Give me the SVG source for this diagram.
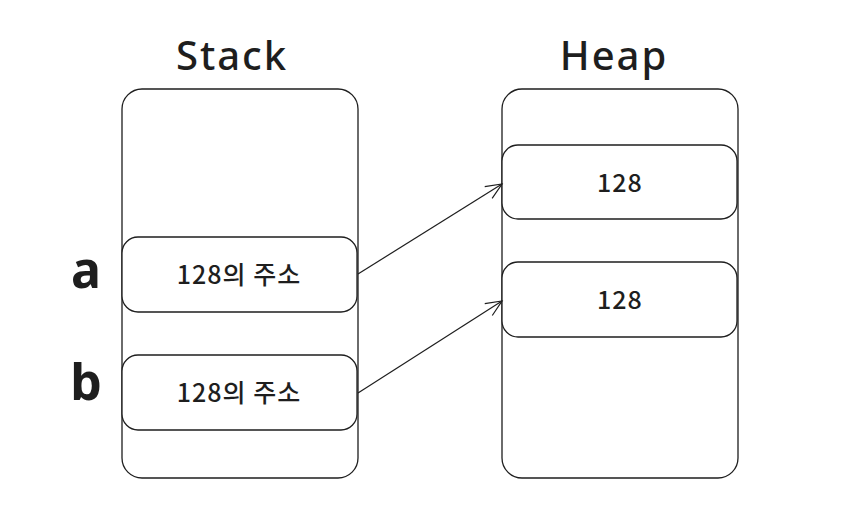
<svg xmlns="http://www.w3.org/2000/svg" width="862" height="525" viewBox="0 0 862 525">
<style>
.box{fill:#fff;stroke:#1e1e1e;stroke-width:1.3}
.title{font-family:"Noto Sans","Liberation Sans",sans-serif;font-size:40px;font-weight:500;fill:#1e1e1e;text-anchor:middle;letter-spacing:2px}
.var{font-family:"Noto Sans","Liberation Sans",sans-serif;font-size:50px;font-weight:bold;fill:#1e1e1e;text-anchor:middle}
.lbl{font-family:"Noto Sans CJK KR","Noto Sans",sans-serif;font-size:25px;font-weight:500;fill:#1e1e1e;text-anchor:middle;dominant-baseline:central;letter-spacing:1px}
.conn{fill:none;stroke:#1e1e1e;stroke-width:1.2}
</style>
<defs>
<marker id="arr" viewBox="0 0 20 20" refX="18" refY="10" markerWidth="20" markerHeight="20" markerUnits="userSpaceOnUse" orient="auto">
<path d="M2,3 L18,10 L2,17" fill="none" stroke="#1e1e1e" stroke-width="1.2"/>
</marker>
</defs>
<rect width="862" height="525" fill="#fff"/>
<g id="stack">
<text class="title" x="232" y="70">Stack</text>
<rect class="box" x="122" y="89" width="236" height="389" rx="20"/>
</g>
<g id="heap">
<text class="title" x="614" y="70">Heap</text>
<rect class="box" x="502" y="89" width="236" height="389" rx="20"/>
</g>
<g id="var-a"><text class="var" x="86" y="288">a</text></g>
<g id="var-b"><text class="var" x="86" y="400">b</text></g>
<g id="stack-a">
<rect class="box" x="122" y="237" width="235" height="75" rx="16"/>
<text class="lbl" x="239" y="273">128의 주소</text>
</g>
<g id="stack-b">
<rect class="box" x="122" y="355" width="235" height="75" rx="16"/>
<text class="lbl" x="239" y="391">128의 주소</text>
</g>
<g id="heap-1">
<rect class="box" x="502" y="145" width="235" height="74" rx="16"/>
<text class="lbl" x="620" y="181">128</text>
</g>
<g id="heap-2">
<rect class="box" x="502" y="262" width="235" height="75" rx="16"/>
<text class="lbl" x="620" y="298">128</text>
</g>
<g id="connectors">
<path class="conn" d="M358,274 L502,184" marker-end="url(#arr)"/>
<path class="conn" d="M358,393 L502,301" marker-end="url(#arr)"/>
</g>
</svg>
